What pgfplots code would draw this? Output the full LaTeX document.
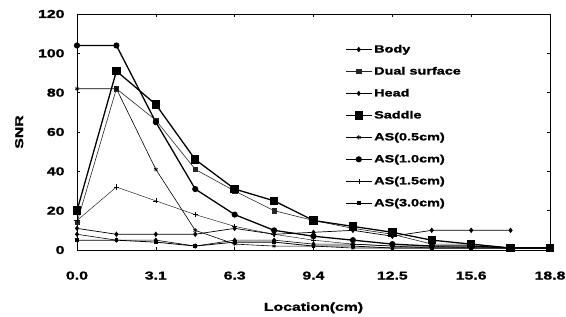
\documentclass[border=0pt]{standalone}
\usepackage{pgfplots}
\pgfplotsset{compat=1.18}
\usepackage{fontspec}
\setmainfont{Liberation Sans}[FakeStretch=1.38, BoldFeatures={FakeBold=1.5}]
\begin{document}
\begin{tikzpicture}
\begin{axis}[
  scale only axis,
  width=473bp, height=236bp,
  xmin=0, xmax=18.8, ymin=0, ymax=120,
  ytick={0,20,40,60,80,100,120},
  xtick={0,3.1333,6.2667,9.4,12.5333,15.6667,18.8},
  xticklabels={0.0,3.1,6.3,9.4,12.5,15.6,18.8},
  /pgf/number format/assume math mode=true,
  tick align=inside,
  major tick length=3bp,
  tick style={black, line width=0.6pt},
  ticklabel style={font=\bfseries\fontsize{11.5}{13}\selectfont},
  xticklabel style={yshift=-18bp},
  yticklabel style={xshift=-9bp},
  xlabel={Location(cm)},
  ylabel={SNR},
  label style={font=\bfseries\fontsize{11.5}{13}\selectfont},
  xlabel style={yshift=-16bp},
  ylabel style={yshift=8bp},
  axis line style={line width=0.8pt},
  legend style={draw=none, fill=none, at={(0.567,0.878)}, anchor=north west,
    font=\bfseries\fontsize{10.5}{12}\selectfont, row sep=8.9bp, inner sep=0pt},
  legend cell align=left,
  legend image code/.code={\draw[mark repeat=2,mark phase=2] plot coordinates {(0cm,0cm) (0.45cm,0cm) (0.9cm,0cm)};},
  clip=false,
]
% Body
\addplot[black, line width=0.7pt, mark=diamond*, mark size=2.2pt] coordinates {
(0,11) (1.5667,8) (3.1333,8) (4.7,8) (6.2667,11) (7.8333,8) (9.4,9) (10.9667,10) (12.5333,7) (14.1,10) (15.6667,10) (17.2333,10)};
\addlegendentry{Body}
% Dual surface
\addplot[black!85, line width=0.6pt, mark=square*, mark size=2.2pt] coordinates {
(0,14) (1.5667,82) (3.1333,66) (4.7,41) (6.2667,30) (7.8333,20) (9.4,15) (10.9667,11) (12.5333,8) (14.1,3) (15.6667,3) (17.2333,1) (18.8,1)};
\addlegendentry{Dual surface}
% Head
\addplot[black, line width=0.6pt, mark=diamond*, mark size=2.2pt] coordinates {
(0,8) (1.5667,5) (3.1333,5) (4.7,2) (6.2667,5) (7.8333,5) (9.4,3) (10.9667,3) (12.5333,2) (14.1,1) (15.6667,1) (17.2333,1) (18.8,1)};
\addlegendentry{Head}
% Saddle
\addplot[black, line width=1.3pt, mark=square*, mark size=3.6pt] coordinates {
(0,20) (1.5667,91) (3.1333,74) (4.7,46) (6.2667,31) (7.8333,25) (9.4,15) (10.9667,12) (12.5333,9) (14.1,5) (15.6667,3) (17.2333,1) (18.8,1)};
\addlegendentry{Saddle}
% AS(0.5cm)
\addplot[black, line width=0.6pt, mark=asterisk, mark size=2.2pt] coordinates {
(0,82) (1.5667,82) (3.1333,41) (4.7,10) (6.2667,3) (7.8333,2) (9.4,2) (10.9667,1) (12.5333,1) (14.1,1) (15.6667,1) (17.2333,1) (18.8,1)};
\addlegendentry{AS(0.5cm)}
% AS(1.0cm)
\addplot[black, line width=1.3pt, mark=*, mark size=2.4pt] coordinates {
(0,104) (1.5667,104) (3.1333,65) (4.7,31) (6.2667,18) (7.8333,10) (9.4,7) (10.9667,5) (12.5333,3) (14.1,2) (15.6667,2) (17.2333,1) (18.8,1)};
\addlegendentry{AS(1.0cm)}
% AS(1.5cm)
\addplot[black, line width=0.4pt, mark=+, mark size=2.6pt] coordinates {
(0,15) (1.5667,32) (3.1333,25) (4.7,18) (6.2667,12) (7.8333,8) (9.4,5) (10.9667,3) (12.5333,2) (14.1,2) (15.6667,1) (17.2333,1) (18.8,1)};
\addlegendentry{AS(1.5cm)}
% AS(3.0cm)
\addplot[black, line width=0.8pt, mark=square*, mark size=1.4pt] coordinates {
(0,5) (1.5667,5) (3.1333,4) (4.7,2) (6.2667,4) (7.8333,4) (9.4,2) (10.9667,2) (12.5333,1) (14.1,1) (15.6667,1) (17.2333,1) (18.8,1)};
\addlegendentry{AS(3.0cm)}
\end{axis}
\pgfresetboundingbox
\path ([shift={(-77bp,-67bp)}]current axis.south west) rectangle ([shift={(16bp,14bp)}]current axis.north east);
\end{tikzpicture}
\end{document}
